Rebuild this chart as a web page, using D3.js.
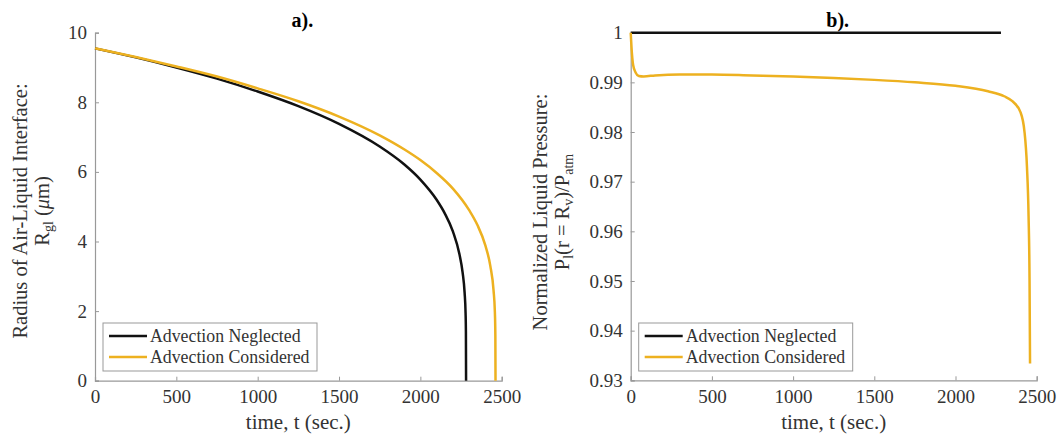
<!DOCTYPE html>
<html><head><meta charset="utf-8">
<script src="https://cdn.jsdelivr.net/npm/d3@7"></script>
<style>
body{margin:0;background:#fff;}
text{font-family:"Liberation Serif","Times New Roman",serif;}
</style></head>
<body><svg id="c" width="1061" height="437"></svg>
<script>
// Panel a data: radius of air-liquid interface (um) vs time (s)
const tNegA = [0,250,500,750,1000,1250,1500,1750,1900,2000,2100,2150,2200,2240,2260,2272,2278,2280,2281];
const rNegA = [9.55,9.29,9.00,8.68,8.31,7.89,7.38,6.73,6.22,5.78,5.20,4.81,4.29,3.64,3.10,2.53,1.94,1.40,0];
const tConA = [0,250,500,750,1000,1250,1500,1750,1900,2000,2100,2200,2300,2350,2400,2430,2450,2458,2461,2462];
const rConA = [9.55,9.30,9.03,8.74,8.40,8.03,7.59,7.05,6.65,6.34,5.97,5.52,4.90,4.48,3.88,3.30,2.59,1.98,1.30,0];
// Panel b data: normalized liquid pressure vs time
const tNegB = [0,2280];
const pNegB = [1.0,1.0];
const tConB = [0,5,15,30,50,80,150,300,500,750,1000,1250,1500,1750,2000,2200,2300,2350,2400,2425,2440,2450,2456,2459];
const pConB = [1.0,0.997,0.9935,0.992,0.9913,0.9912,0.9914,0.9916,0.9916,0.9914,0.9912,0.9909,0.9905,0.9900,0.9893,0.9882,0.9872,0.9862,0.9840,0.980,0.973,0.963,0.950,0.9334];
const xTicks = [0,500,1000,1500,2000,2500];
const yTicksA = [0,2,4,6,8,10];
const yTicksB = [0.93,0.94,0.95,0.96,0.97,0.98,0.99,1];
const seriesNames = ["Advection Neglected","Advection Considered"];
const colors = ["#111111","#EDB120"];

const svg = d3.select("#c");
const axisCol = "#999999", textCol = "#333333";

function panel(opts){
  const x = d3.scaleLinear().domain([0,2500]).range([opts.x0,opts.x1]);
  const y = d3.scaleLinear().domain(opts.yDom).range([opts.yB,opts.yT]);
  const g = svg.append("g");
  const xa = g.append("g").attr("transform",`translate(0,${opts.yB})`)
    .call(d3.axisBottom(x).tickValues(xTicks).tickSize(-4).tickPadding(9).tickFormat(d3.format("d")));
  const ya = g.append("g").attr("transform",`translate(${opts.x0},0)`)
    .call(d3.axisLeft(y).tickValues(opts.yTicks).tickSize(-4).tickPadding(8).tickFormat(opts.fmt));
  [xa,ya].forEach(a=>{
    a.select(".domain").attr("stroke",axisCol).attr("stroke-width",1.2);
    a.selectAll(".tick line").attr("stroke",axisCol);
    a.selectAll(".tick text").attr("fill",textCol).style("font-size","19px").style("font-family","Liberation Serif");
  });
  const line = d3.line().x(d=>x(d[0])).y(d=>y(d[1])).curve(d3.curveMonotoneX);
  opts.series.forEach((s,i)=>{
    g.append("path").datum(d3.zip(s[0],s[1])).attr("d",line)
      .attr("fill","none").attr("stroke",colors[i]).attr("stroke-width",2.5);
  });
  g.append("text").attr("x",(opts.x0+opts.x1)/2+4).attr("y",27).attr("text-anchor","middle")
    .style("font-size","20px").style("font-weight","bold").attr("fill","#000").text(opts.title);
  g.append("text").attr("x",(opts.x0+opts.x1)/2).attr("y",429).attr("text-anchor","middle")
    .style("font-size","21px").attr("fill",textCol).text("time, t (sec.)");
  const lg = g.append("g");
  lg.append("rect").attr("x",opts.x0+8).attr("y",323).attr("width",214).attr("height",48)
    .attr("fill","#fff").attr("stroke",axisCol).attr("stroke-width",1);
  seriesNames.forEach((n,i)=>{
    const yy = 336 + i*21;
    lg.append("line").attr("x1",opts.x0+14).attr("x2",opts.x0+52).attr("y1",yy).attr("y2",yy)
      .attr("stroke",colors[i]).attr("stroke-width",2.5);
    lg.append("text").attr("x",opts.x0+55).attr("y",yy+6).style("font-size","17.8px")
      .attr("fill",textCol).text(n);
  });
  return g;
}

panel({x0:95,x1:501.7,yT:32.7,yB:380.7,yDom:[0,10],yTicks:yTicksA,fmt:d3.format("d"),
  title:"a).",series:[[tNegA,rNegA],[tConA,rConA]]});
panel({x0:630.7,x1:1036.7,yT:32.7,yB:380.3,yDom:[0.93,1],yTicks:yTicksB,fmt:d=>d===1?"1":d3.format(".2f")(d),
  title:"b).",series:[[tNegB,pNegB],[tConB,pConB]]});

function ylab(cx, cy, line1, build2){
  svg.append("text").attr("transform",`translate(${cx},${cy}) rotate(-90)`)
    .attr("text-anchor","middle").style("font-size","20.5px").attr("fill",textCol).text(line1);
  const t2 = svg.append("text").attr("transform",`translate(${cx+22},${cy}) rotate(-90)`)
    .attr("text-anchor","middle").style("font-size","20.5px").attr("fill",textCol);
  build2(t2);
}
ylab(27,211,"Radius of Air-Liquid Interface:",t=>{
  t.append("tspan").text("R");
  t.append("tspan").attr("baseline-shift","-25%").style("font-size","14px").text("gl");
  t.append("tspan").text(" (");
  t.append("tspan").style("font-style","italic").text("μ");
  t.append("tspan").text("m)");
});
ylab(547,212,"Normalized Liquid Pressure:",t=>{
  t.append("tspan").text("P");
  t.append("tspan").attr("baseline-shift","-25%").style("font-size","14px").text("l");
  t.append("tspan").text("(r = R");
  t.append("tspan").attr("baseline-shift","-25%").style("font-size","14px").text("v");
  t.append("tspan").text(")/P");
  t.append("tspan").attr("baseline-shift","-25%").style("font-size","14px").text("atm");
});
</script></body></html>
